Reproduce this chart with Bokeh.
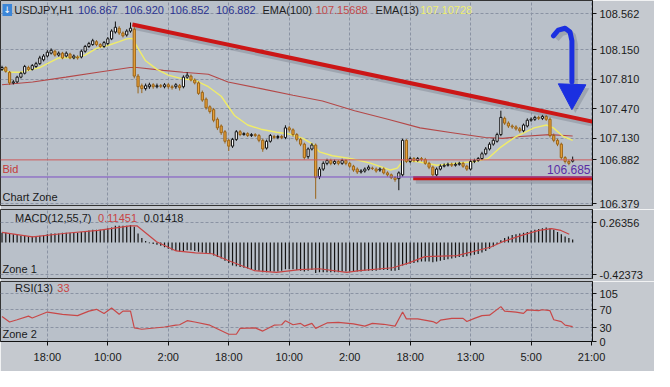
from bokeh.plotting import figure
from bokeh.layouts import column
from bokeh.models import Range1d, FixedTicker, Label, NumeralTickFormatter, ColumnDataSource, Span
from bokeh.embed import file_html
from bokeh.resources import INLINE

# ---------------- data ----------------
opens = [107.923, 107.945, 107.890, 107.768, 107.779, 107.834, 107.879, 107.945, 107.923, 107.956,
         107.989, 108.033, 108.077, 108.110, 108.132, 108.088, 108.110, 108.077, 108.099, 108.055,
         108.066, 108.066, 108.132, 108.187, 108.209, 108.242, 108.209, 108.187, 108.220, 108.275,
         108.353, 108.397, 108.342, 108.320, 108.364, 108.386, 107.846, 107.735, 107.702, 107.724,
         107.746, 107.724, 107.735, 107.724, 107.746, 107.724, 107.724, 107.735, 107.724, 107.834,
         107.846, 107.801, 107.768, 107.658, 107.581, 107.493, 107.460, 107.349, 107.272, 107.206,
         107.107, 107.040, 107.118, 107.206, 107.173, 107.184, 107.162, 107.173, 107.162, 107.107,
         107.018, 107.096, 107.151, 107.140, 107.151, 107.140, 107.250, 107.228, 107.173, 107.118,
         107.063, 106.919, 107.007, 107.052, 106.688, 106.776, 106.842, 106.875, 106.842, 106.864,
         106.842, 106.875, 106.842, 106.809, 106.776, 106.743, 106.754, 106.776, 106.787, 106.776,
         106.765, 106.776, 106.732, 106.710, 106.677, 106.666, 106.710, 107.107, 106.864, 106.897,
         106.875, 106.897, 106.886, 106.842, 106.798, 106.710, 106.776, 106.809, 106.820, 106.831,
         106.820, 106.831, 106.842, 106.809, 106.776, 106.864, 106.875, 106.897, 106.952, 107.007,
         107.063, 107.096, 107.173, 107.360, 107.305, 107.272, 107.261, 107.239, 107.217, 107.272,
         107.338, 107.349, 107.371, 107.360, 107.382, 107.349, 107.162, 107.107, 107.063, 106.908,
         106.864, 106.867]
closes = [107.945, 107.901, 107.768, 107.779, 107.834, 107.879, 107.956, 107.923, 107.967, 107.989,
          108.055, 108.077, 108.121, 108.143, 108.088, 108.110, 108.055, 108.110, 108.055, 108.077,
          108.055, 108.132, 108.187, 108.220, 108.253, 108.209, 108.187, 108.231, 108.275, 108.364,
          108.408, 108.342, 108.309, 108.364, 108.397, 107.846, 107.724, 107.702, 107.735, 107.746,
          107.724, 107.735, 107.730, 107.746, 107.724, 107.713, 107.746, 107.713, 107.834, 107.857,
          107.801, 107.768, 107.647, 107.570, 107.482, 107.438, 107.338, 107.250, 107.195, 107.096,
          107.040, 107.118, 107.206, 107.173, 107.184, 107.162, 107.173, 107.162, 107.107, 107.007,
          107.096, 107.162, 107.140, 107.151, 107.140, 107.250, 107.228, 107.173, 107.118, 107.063,
          106.908, 107.007, 107.052, 106.677, 106.776, 106.842, 106.875, 106.842, 106.864, 106.842,
          106.875, 106.842, 106.809, 106.765, 106.743, 106.754, 106.776, 106.798, 106.782, 106.754,
          106.776, 106.732, 106.710, 106.677, 106.655, 106.732, 107.107, 106.864, 106.897, 106.875,
          106.897, 106.886, 106.842, 106.798, 106.710, 106.776, 106.809, 106.820, 106.831, 106.820,
          106.831, 106.842, 106.809, 106.776, 106.864, 106.875, 106.897, 106.952, 107.007, 107.063,
          107.107, 107.173, 107.371, 107.305, 107.272, 107.261, 107.239, 107.217, 107.283, 107.338,
          107.349, 107.371, 107.360, 107.382, 107.349, 107.162, 107.107, 107.063, 106.908, 106.864,
          106.842, 106.882]
highs = [107.965, 107.960, 107.905, 107.800, 107.850, 107.895, 107.975, 107.965, 107.985, 108.010,
         108.080, 108.100, 108.145, 108.165, 108.150, 108.130, 108.125, 108.130, 108.115, 108.095,
         108.085, 108.150, 108.205, 108.240, 108.275, 108.260, 108.225, 108.250, 108.295, 108.385,
         108.474, 108.420, 108.360, 108.385, 108.463, 108.420, 107.870, 107.760, 107.760, 107.770,
         107.765, 107.760, 107.755, 107.765, 107.765, 107.745, 107.765, 107.755, 107.855, 107.890,
         107.865, 107.820, 107.785, 107.680, 107.600, 107.510, 107.480, 107.370, 107.290, 107.225,
         107.125, 107.135, 107.225, 107.225, 107.200, 107.200, 107.190, 107.190, 107.180, 107.125,
         107.115, 107.180, 107.170, 107.170, 107.170, 107.280, 107.270, 107.245, 107.190, 107.135,
         107.080, 107.025, 107.075, 107.070, 106.800, 106.865, 106.895, 106.895, 106.885, 106.880,
         106.895, 106.890, 106.860, 106.825, 106.795, 106.775, 106.795, 106.820, 106.805, 106.795,
         106.795, 106.795, 106.750, 106.725, 106.695, 106.750, 107.125, 107.120, 106.920, 106.915,
         106.915, 106.915, 106.905, 106.860, 106.815, 106.795, 106.830, 106.840, 106.850, 106.850,
         106.850, 106.860, 106.860, 106.825, 106.885, 106.895, 106.915, 106.975, 107.030, 107.085,
         107.130, 107.195, 107.448, 107.380, 107.325, 107.290, 107.280, 107.260, 107.300, 107.360,
         107.370, 107.390, 107.390, 107.400, 107.400, 107.370, 107.185, 107.125, 107.080, 106.925,
         106.885, 106.920]
lows = [107.905, 107.885, 107.745, 107.750, 107.765, 107.820, 107.865, 107.905, 107.910, 107.940,
        107.975, 108.015, 108.060, 108.095, 108.070, 108.070, 108.040, 108.060, 108.040, 108.040,
        108.035, 108.050, 108.115, 108.170, 108.195, 108.190, 108.170, 108.170, 108.200, 108.260,
        108.335, 108.320, 108.290, 108.300, 108.345, 107.820, 107.647, 107.650, 107.680, 107.700,
        107.700, 107.705, 107.710, 107.705, 107.700, 107.690, 107.700, 107.680, 107.705, 107.815,
        107.785, 107.750, 107.630, 107.550, 107.460, 107.415, 107.315, 107.225, 107.170, 107.070,
        106.985, 107.020, 107.100, 107.155, 107.160, 107.145, 107.145, 107.145, 107.085, 106.975,
        107.000, 107.080, 107.120, 107.120, 107.120, 107.120, 107.205, 107.150, 107.095, 107.040,
        106.885, 106.895, 106.990, 106.434, 106.660, 106.755, 106.820, 106.820, 106.825, 106.820,
        106.825, 106.820, 106.790, 106.745, 106.720, 106.725, 106.735, 106.760, 106.765, 106.735,
        106.745, 106.715, 106.690, 106.660, 106.630, 106.533, 106.690, 106.845, 106.845, 106.855,
        106.860, 106.865, 106.825, 106.775, 106.690, 106.690, 106.760, 106.795, 106.805, 106.800,
        106.805, 106.815, 106.790, 106.755, 106.760, 106.845, 106.860, 106.880, 106.935, 106.990,
        107.045, 107.080, 107.155, 107.285, 107.250, 107.240, 107.220, 107.195, 107.200, 107.255,
        107.320, 107.330, 107.340, 107.340, 107.330, 107.140, 107.085, 107.040, 106.885, 106.840,
        106.820, 106.852]

ema13_bar = [0, 2, 5, 7, 10, 12.5, 15, 18, 20, 22, 25, 28, 31, 33, 34.5, 36, 38, 41, 44, 48, 51,
             54.6, 58, 61.5, 65, 68.5, 72.6, 76, 79.6, 82, 84, 87.4, 92.5, 97.7, 102.8, 104.6,
             106.2, 109.8, 115, 120, 125.3, 128.6, 132, 135.6, 140.8, 144.1, 145.9, 148.5, 151]
ema13_val = [107.923, 107.890, 107.890, 107.912, 107.945, 108.000, 108.055, 108.060, 108.060,
             108.088, 108.165, 108.198, 108.242, 108.275, 108.280, 108.165, 108.022, 107.923,
             107.857, 107.812, 107.801, 107.724, 107.614, 107.393, 107.283, 107.235, 107.200,
             107.180, 107.130, 107.070, 106.974, 106.930, 106.897, 106.842, 106.765, 106.787,
             106.875, 106.864, 106.820, 106.842, 106.864, 106.897, 107.029, 107.140, 107.250,
             107.283, 107.250, 107.151, 107.107]
ema100_bar = [0, 8.1, 16.9, 25.4, 33.9, 35.7, 42.7, 47.9, 54.6, 59.8, 68.5, 77, 84.8, 93.3,
              102.1, 110.6, 119.1, 127.9, 132.5, 137.2, 144.9, 151]
ema100_val = [107.746, 107.779, 107.834, 107.890, 107.945, 107.945, 107.912, 107.890, 107.868,
              107.779, 107.702, 107.625, 107.559, 107.448, 107.349, 107.250, 107.195, 107.140,
              107.129, 107.151, 107.173, 107.157]

macd_hist = [0.13, 0.13, 0.12, 0.11, 0.10, 0.09, 0.09, 0.08, 0.08, 0.08,
             0.09, 0.10, 0.11, 0.12, 0.12, 0.12, 0.13, 0.13, 0.13, 0.13,
             0.13, 0.14, 0.15, 0.16, 0.17, 0.17, 0.17, 0.18, 0.19, 0.20,
             0.22, 0.22, 0.22, 0.22, 0.23, 0.21, 0.12, 0.06, 0.02, -0.01,
             -0.02, -0.03, -0.04, -0.06, -0.08, -0.10, -0.11, -0.12, -0.11, -0.10,
             -0.10, -0.11, -0.12, -0.13, -0.14, -0.15, -0.17, -0.19, -0.21, -0.24,
             -0.27, -0.30, -0.31, -0.32, -0.33, -0.34, -0.35, -0.36, -0.37, -0.39,
             -0.39, -0.38, -0.38, -0.38, -0.37, -0.35, -0.35, -0.35, -0.36, -0.37,
             -0.38, -0.37, -0.36, -0.40, -0.39, -0.39, -0.39, -0.39, -0.39, -0.39,
             -0.38, -0.38, -0.38, -0.38, -0.38, -0.38, -0.37, -0.37, -0.37, -0.37,
             -0.36, -0.36, -0.36, -0.37, -0.37, -0.36, -0.30, -0.29, -0.28, -0.27,
             -0.26, -0.25, -0.25, -0.25, -0.26, -0.25, -0.24, -0.23, -0.22, -0.21,
             -0.20, -0.19, -0.19, -0.18, -0.17, -0.16, -0.15, -0.13, -0.11, -0.08,
             -0.05, -0.02, 0.03, 0.06, 0.08, 0.10, 0.11, 0.12, 0.13, 0.14,
             0.16, 0.17, 0.18, 0.19, 0.20, 0.19, 0.17, 0.14, 0.11, 0.08,
             0.06, 0.04]
signal_bar = [0, 8.1, 16.9, 25.4, 33.9, 35.7, 40.9, 46.1, 51.2, 55.6, 59.7, 66.7, 72.6, 78.8,
              84, 91.2, 94.6, 103.4, 107.5, 111.9, 120.4, 129.2, 132.5, 137.7, 142.1, 145.4,
              147.9, 150.1]
signal_val = [0.135, 0.074, 0.123, 0.160, 0.221, 0.221, 0.012, -0.110, -0.135, -0.147, -0.233,
              -0.368, -0.393, -0.356, -0.344, -0.393, -0.368, -0.331, -0.270, -0.184, -0.172,
              -0.061, 0.012, 0.098, 0.160, 0.184, 0.160, 0.110]

rsi_bar = [0, 2, 4, 7, 8, 12, 16, 20, 23, 25, 27, 29, 31, 32, 34, 35, 37, 43, 46, 47, 49, 51,
           55, 60, 62, 63, 67, 69, 72, 74, 75, 77, 79, 80, 82, 83, 85, 86, 89, 93, 96, 98, 101,
           104, 106, 107, 110, 114, 115, 116, 119, 122, 123, 125, 127, 129, 132, 133, 136, 138,
           139, 142, 143, 145, 146, 148, 149, 151]
rsi_val = [55, 43, 48, 56, 52, 65, 60, 57, 67, 71, 62, 74, 60, 67, 67, 30, 27, 32, 36, 37, 46, 43,
           36, 16, 16, 29, 30, 23, 36, 37, 46, 37, 40, 34, 40, 29, 37, 41, 42, 39, 34, 40, 38,
           34, 65, 50, 50, 44, 40, 47, 51, 51, 44, 51, 57, 58, 77, 67, 65, 62, 70, 68, 70, 68,
           48, 44, 36, 33]

bid_price = 106.882
level_price = 106.685
trend_bar = [34.5, 157.0]
trend_price = [108.440, 107.316]
support_bar = [108.8, 157.0]
support_price = [106.672, 106.672]
arrow_bar = [145.9, 147.2, 149.0, 150.3, 150.8, 150.8]
arrow_price = [108.308, 108.375, 108.397, 108.353, 108.253, 107.780]
arrowhead_bar = [147.2, 154.5, 150.8]
arrowhead_price = [107.757, 107.746, 107.460]

time_ticks = [12, 28, 44, 60, 76, 92, 108, 124, 140, 156]
time_labels = ["18:00", "10:00", "2:00", "18:00", "10:00", "2:00", "18:00", "13:00", "5:00", "21:00"]
price_ticks = [106.379, 107.130, 107.470, 107.810, 108.150, 108.562]
macd_ticks = [-0.42373, 0.26356]
rsi_ticks = [0, 30, 70, 105]

# ---------------- styling ----------------
W = 654
RIGHT = 62
BG = "#b9c0c9"
BORDER = "#c5c9cf"
GRID = "#8a93a3"
FONT = "Liberation Sans"
x_range = Range1d(-0.4, 156.25)
bars = list(range(len(opens)))


def make_fig(height, y0, y1, top, bottom, xaxis):
    p = figure(width=W, height=height, x_range=x_range, y_range=Range1d(y0, y1),
               x_axis_location="below" if xaxis else None, y_axis_location="right",
               toolbar_location=None, output_backend="svg",
               min_border_left=0, min_border_right=RIGHT, min_border_top=top,
               min_border_bottom=bottom)
    p.background_fill_color = BG
    p.border_fill_color = BORDER
    p.outline_line_color = "#333333"
    p.xgrid.ticker = FixedTicker(ticks=time_ticks)
    for g in (p.xgrid, p.ygrid):
        g.grid_line_color = GRID
        g.grid_line_dash = "3 2"
        g.grid_line_width = 1
    ax = p.yaxis[0]
    ax.axis_line_color = "#111111"
    ax.major_tick_line_color = "#111111"
    ax.major_tick_out = 4
    ax.major_tick_in = 0
    ax.minor_tick_line_color = None
    ax.major_label_text_font = FONT
    ax.major_label_text_font_size = "11px"
    ax.major_label_text_color = "#1a1a1a"
    ax.major_label_standoff = 3
    return p


def add_text(p, x, y, text, color="#1a1a1a", size="11px", align="left"):
    p.add_layout(Label(x=x, y=y, x_units="screen", y_units="screen", text=text,
                       text_color=color, text_font=FONT, text_font_size=size,
                       text_baseline="middle", text_align=align))


# ---------------- main price panel ----------------
main = make_fig(209, 106.357, 108.716, 0, 4, False)
# the current bid price is also marked on the price axis
main.yaxis[0].ticker = FixedTicker(ticks=price_ticks + [bid_price])
main.ygrid.ticker = FixedTicker(ticks=price_ticks)
main.yaxis[0].formatter = NumeralTickFormatter(format="0.000")

main.add_layout(Span(location=bid_price, dimension="width", line_color="#cf5a5a", line_width=1))
main.add_layout(Span(location=level_price, dimension="width", line_color="#7d4fc4", line_width=1))

main.line(ema100_bar, ema100_val, line_color="#b44848", line_width=1.1)
main.line(ema13_bar, ema13_val, line_color="#f0ec68", line_width=1.4)

up = [c >= o for o, c in zip(opens, closes)]
src = ColumnDataSource(dict(
    x=bars, high=highs, low=lows,
    top=[max(o, c) for o, c in zip(opens, closes)],
    bottom=[min(o, c) for o, c in zip(opens, closes)],
    fill=["#ffffff" if u else "#e9a23a" for u in up],
    edge=["#111111" if u else "#9a6418" for u in up],
))
main.segment(x0="x", y0="low", x1="x", y1="high", line_color="edge", line_width=1, source=src)
main.vbar(x="x", width=0.58, top="top", bottom="bottom", fill_color="fill",
          line_color="edge", line_width=1, source=src)

# shadows of drawn objects
main.line([b + 0.7 for b in trend_bar], [v - 0.035 for v in trend_price],
          line_color="#5a6070", line_alpha=0.28, line_width=5)
main.line([b + 0.7 for b in support_bar], [v - 0.035 for v in support_price],
          line_color="#5a6070", line_alpha=0.28, line_width=5)
main.line([b + 0.9 for b in arrow_bar], [v - 0.04 for v in arrow_price],
          line_color="#5a6070", line_alpha=0.28, line_width=5)
main.patch([b + 0.9 for b in arrowhead_bar], [v - 0.04 for v in arrowhead_price],
           fill_color="#5a6070", fill_alpha=0.28, line_color=None)

main.line(trend_bar, trend_price, line_color="#cc1616", line_width=4)
main.line(support_bar, support_price, line_color="#cc1616", line_width=4)
main.line(arrow_bar, arrow_price, line_color="#1b2fe0", line_width=5, line_cap="round",
          line_join="round")
main.patch(arrowhead_bar, arrowhead_price, fill_color="#1b2fe0", line_color="#1b2fe0")

# header
main.add_layout(Label(x=2, y=195.5, x_units="screen", y_units="screen", text="\u2193",
                      text_color="white", text_font="DejaVu Sans", text_font_size="9px",
                      text_baseline="middle", background_fill_color="#3c86d8", padding=1))
hy = 195.5
add_text(main, 13.7, hy, "USDJPY,H1", "#1e1e1e")
add_text(main, 77.4, hy, "106.867", "#2b3390")
add_text(main, 123.7, hy, "106.920", "#2b3390")
add_text(main, 169.2, hy, "106.852", "#2b3390")
add_text(main, 215.4, hy, "106.882", "#2b3390")
add_text(main, 261.9, hy, "EMA(100)", "#1e1e1e")
add_text(main, 315.2, hy, "107.15688", "#c44a4a")
add_text(main, 375.1, hy, "EMA(13)", "#1e1e1e")
add_text(main, 419.7, hy, "107.10728", "#eeee72")
add_text(main, 2, 36.3, "Bid", "#c43a3a")
add_text(main, 2, 8.5, "Chart Zone", "#1a1a1a")
add_text(main, 590, 36.3, "106.685", "#5a2ea6", "12px", "right")

# ---------------- MACD panel ----------------
macd = make_fig(72, -0.4726, 0.4354, 0, 3, False)
macd.yaxis[0].ticker = FixedTicker(ticks=macd_ticks)
macd.ygrid.ticker = FixedTicker(ticks=macd_ticks)
macd.yaxis[0].formatter = NumeralTickFormatter(format="0.00000")
macd.vbar(x=bars, top=macd_hist, bottom=0, width=0.32, fill_color="#151515", line_color=None)
macd.line(signal_bar, signal_val, line_color="#c84444", line_width=1.2)
add_text(macd, 14.6, 60.4, "MACD(12,55,7)")
add_text(macd, 97.6, 60.4, "0.11451", "#c84444")
add_text(macd, 143.2, 60.4, "0.01418")
add_text(macd, 2, 9.6, "Zone 1")

# ---------------- RSI panel ----------------
rsi = make_fig(90, 0, 132.4, 0, 30, True)
rsi.yaxis[0].ticker = FixedTicker(ticks=rsi_ticks)
rsi.ygrid.ticker = FixedTicker(ticks=rsi_ticks)
rsi.yaxis[0].formatter = NumeralTickFormatter(format="0")
xa = rsi.xaxis[0]
xa.ticker = FixedTicker(ticks=time_ticks)
xa.major_label_overrides = {t: s for t, s in zip(time_ticks, time_labels)}
xa.axis_line_color = "#111111"
xa.major_tick_line_color = "#111111"
xa.major_tick_out = 4
xa.major_tick_in = 0
xa.minor_tick_line_color = None
xa.major_label_text_font = FONT
xa.major_label_text_font_size = "11px"
xa.major_label_text_color = "#1a1a1a"
xa.major_label_standoff = 5
rsi.line(rsi_bar, rsi_val, line_color="#c84848", line_width=1.2)
add_text(rsi, 14.6, 53.3, "RSI(13)")
add_text(rsi, 56.8, 53.3, "33", "#c84444")
add_text(rsi, 2, 7.6, "Zone 2")

layout = column(main, macd, rsi, spacing=0)
open("out.html", "w").write(file_html(layout, INLINE))
